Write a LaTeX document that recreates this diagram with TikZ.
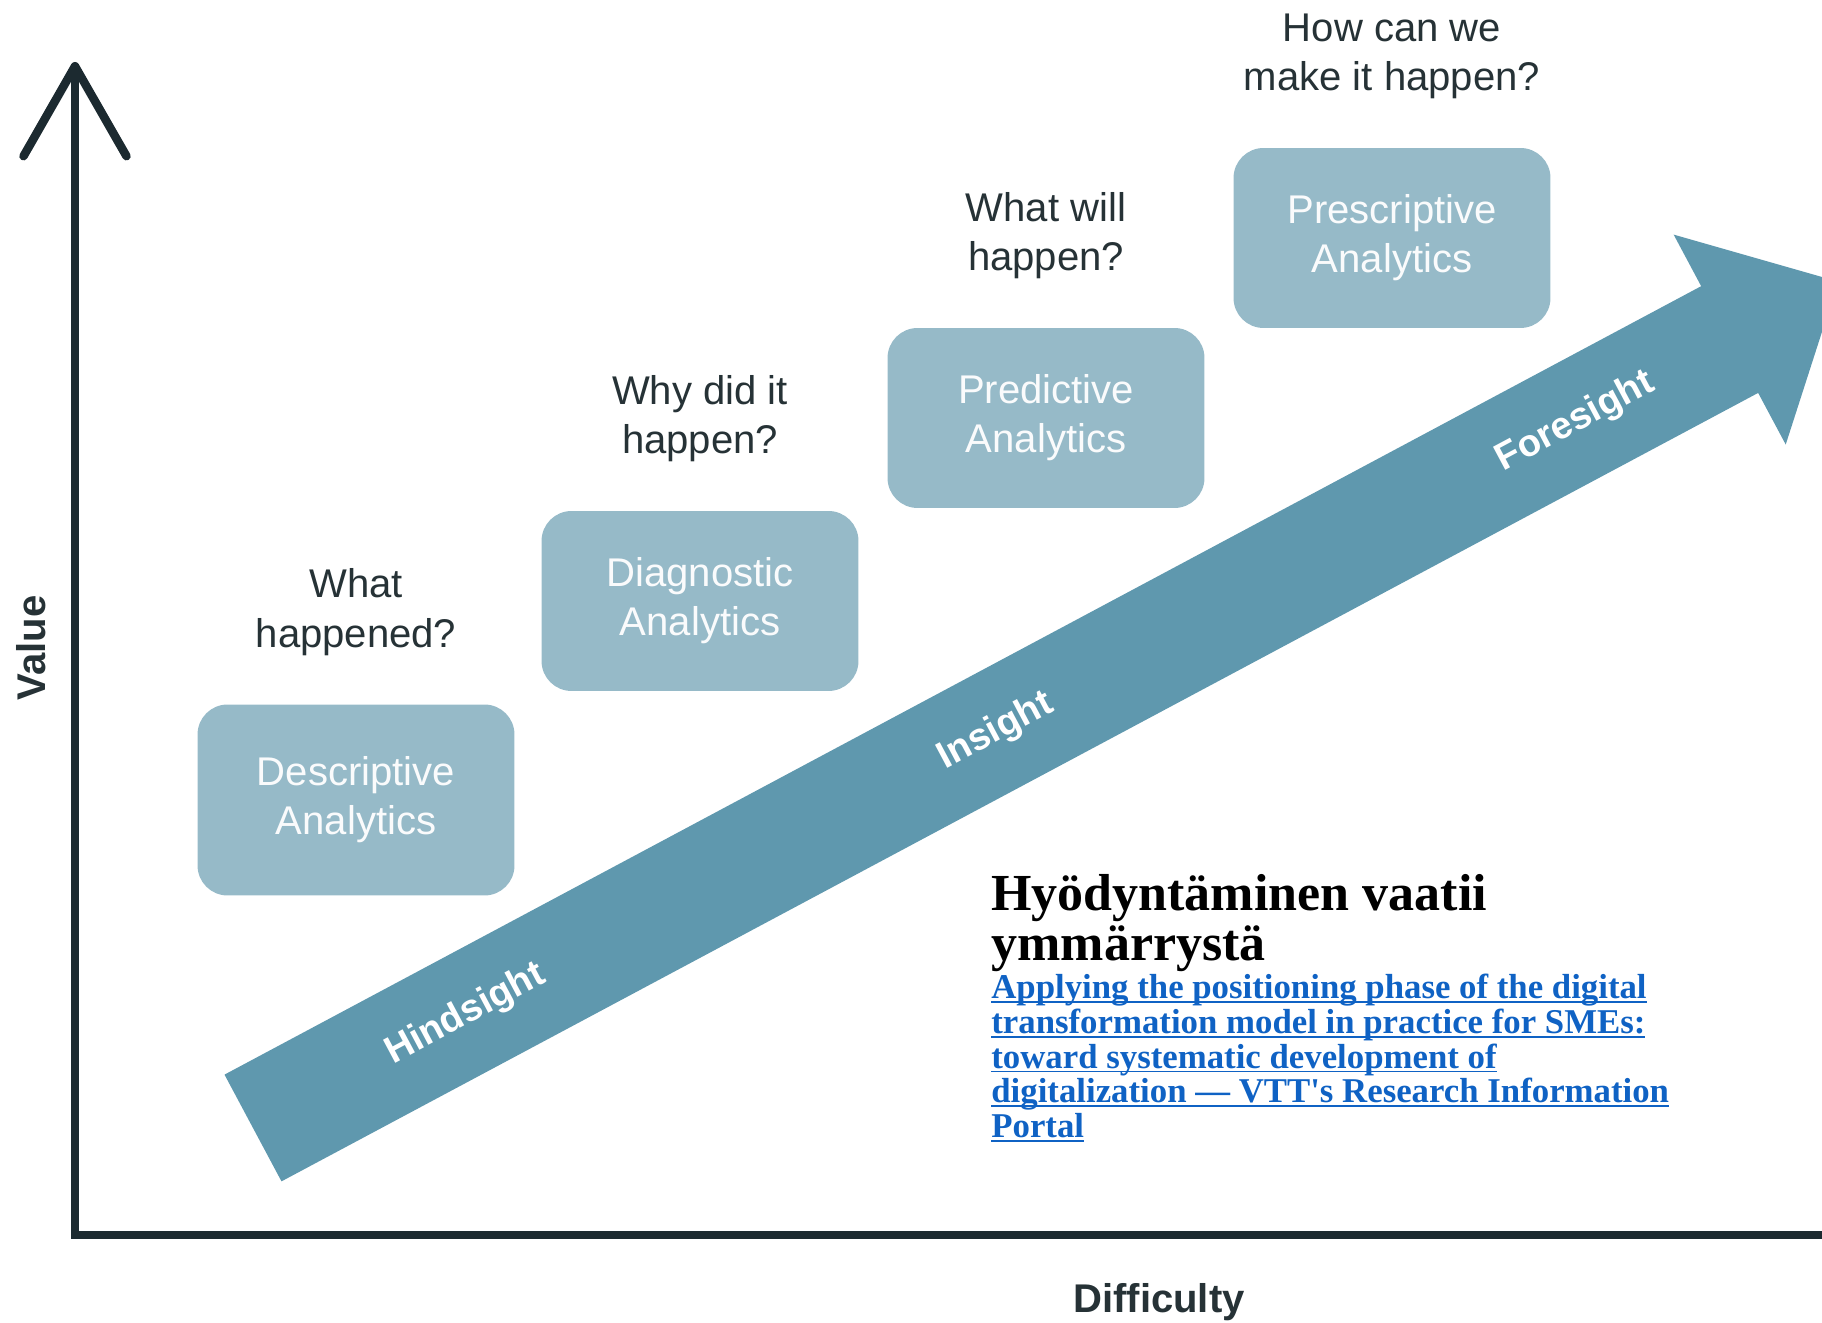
\documentclass[tikz,border=0pt]{standalone}
\usepackage{fontspec}
\setmainfont{Liberation Sans}
\newfontfamily\headfont{Liberation Serif}
\usetikzlibrary{positioning,arrows.meta}

\definecolor{boxblue}{HTML}{96BAC8}
\definecolor{arrowblue}{HTML}{5F98AE}
\definecolor{axisdark}{HTML}{1C2A30}
\definecolor{asktext}{HTML}{263236}
\definecolor{linkblue}{HTML}{0F62C4}
\newcommand{\ulinkline}[1]{\setbox0\hbox{#1}\rlap{\rule[-2.4pt]{\wd0}{1pt}}\box0}

\begin{document}
\begin{tikzpicture}[x=0.02cm,y=0.02cm,
    >={Straight Barb[length=1.8cm,width=2.06cm,round]},
    stage/.style={fill=boxblue,rounded corners=0.6cm,minimum width=6.34cm,
        align=center,text=white!95!boxblue,
        font=\fontsize{22.8}{27.9}\selectfont},
    ask/.style={align=center,inner sep=0pt,text=asktext,
        font=\fontsize{22.8}{27.9}\selectfont},
    sight/.style={text=white,rotate=28.1,font=\bfseries\fontsize{21.6}{26}\selectfont},
    axis/.style={draw=axisdark,line width=0.17cm},
    axislabel/.style={text=asktext,font=\bfseries\fontsize{22.8}{27.9}\selectfont}]

    \useasboundingbox (0,0) rectangle (1822,1322);

    % the big arrow
    \begin{scope}[shift={(253,194)},rotate=28.1]
        \fill[arrowblue] (0,-60.5) -- (1674,-60.5) -- (1674,-119) -- (1797,0)
            -- (1674,119) -- (1674,60.5) -- (0,60.5) -- cycle;
        \node[sight] (hind) at (241,0) {Hindsight};
        \node[sight] (ins) at (842,0) {Insight};
        \node[sight] (fore) at (1499,0) {Foresight};
    \end{scope}

    % axes
    \coordinate (ytop) at (75,1260);
    \coordinate (orig) at (75,87);
    \coordinate (xend) at (1830,87);
    \draw[axis,<-] (ytop) -- (orig) -- (xend);
    \node[axislabel,rotate=90] (value) at (31,674) {Value};
    \node[axislabel] (diff) at (1159,20) {Difficulty};

    % stages and their questions
    \foreach \n/\x/\y/\h/\t/\q in {desc/356/522/3.82/Descriptive/{What\\happened?},
        diag/700/721/3.6/Diagnostic/{Why did it\\happen?},
        pred/1046/904/3.6/Predictive/{What will\\happen?},
        presc/1392/1084/3.6/Prescriptive/{How can we\\make it happen?}}{
        \node[stage,minimum height=\h cm] (\n) at (\x,\y) {\t\\Analytics};
        \node[ask, above=0.97cm of \n] (\n-q) {\q};
    }

    \node[anchor=north west,inner sep=0pt,align=left,
        font=\headfont\bfseries\fontsize{29.6}{28.5}\selectfont] (title) at (991,448)
        {Hyödyntäminen vaatii\\ymmärrystä};
    \node[anchor=north west,inner sep=0pt,align=left,text=linkblue,
        font=\headfont\bfseries\fontsize{19.8}{19.7}\selectfont] (link) at (991,348)
        {\ulinkline{Applying the positioning phase of the digital}\\
         \ulinkline{transformation model in practice for SMEs:}\\
         \ulinkline{toward systematic development of}\\
         \ulinkline{digitalization — VTT's Research Information}\\
         \ulinkline{Portal}};
\end{tikzpicture}
\end{document}
